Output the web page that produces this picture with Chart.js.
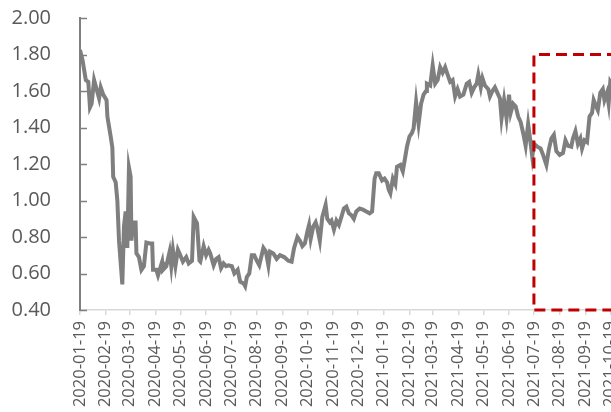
<!DOCTYPE html>
<html>
<head>
<meta charset="utf-8">
<script src="https://cdn.jsdelivr.net/npm/chart.js@4/dist/chart.umd.min.js"></script>
<style>
  html, body { margin: 0; padding: 0; background: #ffffff; overflow: hidden; }
  #wrap { width: 700px; height: 412px; }
</style>
</head>
<body>
<div id="wrap"><canvas id="c" width="700" height="412"></canvas></div>
<script>
// Series start date; each point is placed by its day offset from this date.
const startDate = '2020-01-19';

const dayOffsets = [0,3,7,10,12,14,17,20,23,25,28,32,33,37,39,40,43,45,47,51,53,55,57,59,61,62,64,67,68,71,74,77,80,84,87,88,92,94,96,99,100,104,108,110,112,115,118,120,124,128,131,135,137,141,144,145,149,152,155,157,161,164,167,170,173,176,179,183,186,190,193,197,199,201,204,207,210,213,216,221,224,227,229,233,237,241,246,251,255,258,262,265,268,271,274,276,278,281,284,286,289,292,296,298,301,303,306,309,312,315,318,321,324,327,330,333,337,341,345,349,352,355,357,360,364,367,370,372,374,377,380,382,386,389,392,394,397,400,402,405,408,411,414,417,418,422,425,428,431,434,437,440,443,446,449,452,455,458,462,466,469,472,475,478,480,483,485,488,492,494,497,500,503,506,508,511,514,517,519,522,525,528,531,534,537,540,542,545,547,551,555,558,562,565,568,571,574,578,582,585,588,592,594,597,600,603,605,608,611,614,617,619,622,624,627,630,632,635,637,639,643,648,653];

const seriesValues = [1.825,1.77,1.66,1.65,1.51,1.53,1.66,1.61,1.56,1.62,1.58,1.55,1.46,1.35,1.29,1.13,1.10,1.00,0.78,0.54,0.86,0.94,0.74,1.18,1.13,0.78,0.88,0.88,0.71,0.69,0.62,0.64,0.77,0.765,0.765,0.62,0.62,0.59,0.62,0.665,0.62,0.64,0.72,0.64,0.73,0.64,0.73,0.71,0.665,0.69,0.655,0.67,0.91,0.875,0.67,0.665,0.75,0.70,0.73,0.71,0.645,0.68,0.69,0.63,0.655,0.64,0.645,0.64,0.60,0.62,0.555,0.546,0.53,0.58,0.60,0.70,0.70,0.67,0.645,0.74,0.72,0.645,0.72,0.71,0.68,0.70,0.69,0.67,0.665,0.74,0.80,0.78,0.75,0.765,0.83,0.866,0.79,0.856,0.88,0.85,0.78,0.91,0.975,0.90,0.88,0.89,0.84,0.89,0.866,0.91,0.956,0.966,0.93,0.92,0.90,0.94,0.956,0.95,0.94,0.93,0.94,1.12,1.15,1.15,1.11,1.12,1.10,1.06,1.04,1.12,1.09,1.185,1.195,1.16,1.24,1.295,1.35,1.37,1.395,1.54,1.42,1.53,1.58,1.60,1.64,1.63,1.74,1.64,1.66,1.73,1.70,1.73,1.69,1.65,1.66,1.57,1.61,1.57,1.58,1.64,1.65,1.59,1.62,1.64,1.69,1.62,1.67,1.63,1.61,1.57,1.60,1.62,1.59,1.56,1.45,1.55,1.45,1.58,1.48,1.53,1.515,1.46,1.43,1.37,1.30,1.42,1.35,1.24,1.31,1.295,1.285,1.25,1.195,1.28,1.34,1.36,1.27,1.25,1.26,1.33,1.30,1.295,1.34,1.38,1.31,1.34,1.285,1.33,1.32,1.46,1.48,1.55,1.515,1.495,1.59,1.61,1.55,1.59,1.53,1.65,1.62,1.66,1.64];

// Monthly tick dates along the time axis
const tickDates = ['2020-01-19','2020-02-19','2020-03-19','2020-04-19','2020-05-19','2020-06-19',
  '2020-07-19','2020-08-19','2020-09-19','2020-10-19','2020-11-19','2020-12-19',
  '2021-01-19','2021-02-19','2021-03-19','2021-04-19','2021-05-19','2021-06-19',
  '2021-07-19','2021-08-19','2021-09-19','2021-10-19','2021-11-19'];

const yTicks = [0.40, 0.60, 0.80, 1.00, 1.20, 1.40, 1.60, 1.80, 2.00];

// Highlighted window (dashed box)
const highlightStart = '2021-07-19';
const highlightTop = 1.80;
const highlightBottom = 0.40;

const DAY = 86400000;
function toDays(s) {
  const a = s.split('-').map(Number), b = startDate.split('-').map(Number);
  return Math.round((Date.UTC(a[0], a[1]-1, a[2]) - Date.UTC(b[0], b[1]-1, b[2])) / DAY);
}
const tickDays = tickDates.map(toDays);
const labelByDay = {};
tickDates.forEach((d, i) => { labelByDay[tickDays[i]] = d; });

const points = dayOffsets.map((d, i) => ({ x: d, y: seriesValues[i] }));

// Short inward tick marks on the value axis
const innerYTicks = {
  id: 'innerYTicks',
  afterDraw(chart) {
    const { ctx, scales: { y }, chartArea } = chart;
    ctx.save();
    ctx.strokeStyle = '#7f7f7f';
    ctx.lineWidth = 1.5;
    yTicks.forEach(v => {
      const py = Math.round(y.getPixelForValue(v)) + 0.5;
      ctx.beginPath();
      ctx.moveTo(chartArea.left, py);
      ctx.lineTo(chartArea.left + 7, py);
      ctx.stroke();
    });
    ctx.restore();
  }
};

// Red dashed box marking the highlighted window
const highlightBox = {
  id: 'highlightBox',
  afterDatasetsDraw(chart) {
    const { ctx, scales: { x, y } } = chart;
    const x0 = x.getPixelForValue(toDays(highlightStart));
    const x1 = chart.width + 20;
    const y0 = y.getPixelForValue(highlightTop);
    const y1 = y.getPixelForValue(highlightBottom);
    ctx.save();
    ctx.strokeStyle = '#c00000';
    ctx.lineWidth = 3;
    ctx.setLineDash([11, 6]);
    ctx.beginPath();
    ctx.moveTo(x1, y0);
    ctx.lineTo(x0, y0);
    ctx.lineTo(x0, y1);
    ctx.lineTo(x1, y1);
    ctx.stroke();
    ctx.restore();
  }
};

new Chart(document.getElementById('c'), {
  type: 'line',
  data: {
    datasets: [{
      data: points,
      borderColor: '#7f7f7f',
      borderWidth: 4,
      pointRadius: 0,
      tension: 0,
      fill: false
    }]
  },
  options: {
    responsive: false,
    animation: false,
    devicePixelRatio: 1,
    layout: { padding: { top: 18, right: 64, left: 0, bottom: 0 } },
    plugins: { legend: { display: false }, tooltip: { enabled: false } },
    scales: {
      x: {
        type: 'linear',
        min: 0,
        max: tickDays[tickDays.length - 1],
        afterBuildTicks(scale) { scale.ticks = tickDays.map(v => ({ value: v })); },
        afterFit(scale) {
          scale.height = 102;
          scale.paddingLeft = 0;
          scale.paddingRight = 0;
        },
        border: { color: '#d9d9d9', width: 1.5 },
        grid: { drawOnChartArea: false, color: '#d9d9d9', tickLength: 5, lineWidth: 1.5 },
        ticks: {
          autoSkip: false,
          minRotation: 90,
          maxRotation: 90,
          padding: 6,
          color: '#595959',
          font: { family: 'Open Sans', size: 16.5 },
          callback: v => labelByDay[v] || ''
        }
      },
      y: {
        min: 0.4,
        max: 2.0,
        afterBuildTicks(scale) { scale.ticks = yTicks.map(v => ({ value: v })); },
        afterFit(scale) {
          scale.width = 80;
          scale.paddingTop = 0;
          scale.paddingBottom = 0;
        },
        border: { color: '#7f7f7f', width: 2 },
        grid: { display: false, drawTicks: false },
        ticks: {
          padding: 29,
          color: '#595959',
          font: { family: 'Open Sans', size: 20 },
          callback: v => Number(v).toFixed(2)
        }
      }
    }
  },
  plugins: [innerYTicks, highlightBox]
});
</script>
</body>
</html>
